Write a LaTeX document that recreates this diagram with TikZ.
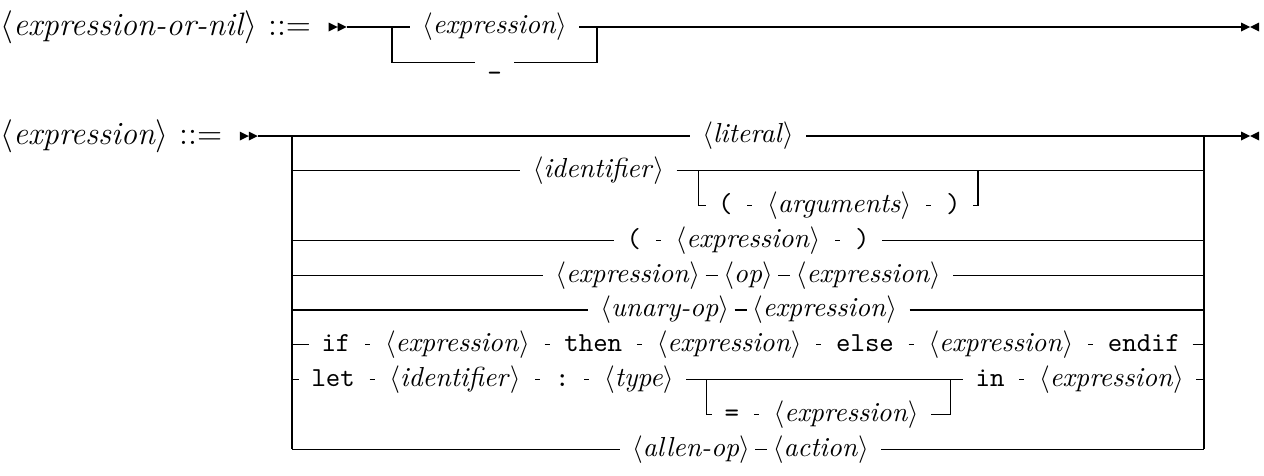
\documentclass[tikz,border=0pt]{standalone}
\usetikzlibrary{positioning}
\newcommand{\ntm}[1]{$\langle$\textit{#1}$\rangle$}
\newcommand{\rulesize}{\fontsize{11.8pt}{14pt}\selectfont}
\begin{document}
\begin{tikzpicture}[x=0.36364pt, y=-0.36364pt, line width=0.4pt,
  nt/.style={inner sep=0pt, text height=7.5pt, text depth=2.5pt},
  tk/.style={nt, font=\ttfamily},
  lhs/.style={inner sep=0pt, text height=8.85pt, text depth=2.95pt, font=\rulesize},
  nnr/.style={right=8pt of #1},
  nnl/.style={left=8pt of #1},
  tnr/.style={right=12.18pt of #1},
  tnl/.style={left=12.18pt of #1},
  nn/.style={shorten <=1.818pt, shorten >=1.818pt},
  nk/.style={shorten <=5.182pt, shorten >=5.182pt},
  padin/.style={shorten >=4.364pt},
  padout/.style={shorten <=4.364pt},
  startmark/.pic={\fill (0,-4.5) -- (9,0) -- (0,4.5) -- cycle (9,-4.5) -- (18,0) -- (9,4.5) -- cycle;},
  endmark/.pic={\fill (0,-4.5) -- (9,0) -- (0,4.5) -- cycle (18,-4.5) -- (9,0) -- (18,4.5) -- cycle;}]
\useasboundingbox (0,0) rectangle (1264,475);

% ---------- <expression-or-nil> ----------
\node[lhs, anchor=west] (lhsA) at (0,27) {\ntm{expression-or-nil} $::=$};
\coordinate[right=6.182pt of lhsA] (a0);
\pic at (a0) {startmark};
\coordinate (a1) at ([xshift=6.545pt]a0);
\coordinate (aS) at (392,27);
\coordinate (aM) at (597,27);
\coordinate (aE) at (1241,27);
\node[nt] (aexp) at (494.5,27) {\ntm{expression}};
\node[tk] (anil) at (494.5,62.3) {\_};
\draw[padin] (a1) -- (aexp);
\draw[padout] (aexp) -- (aE);
\draw[padin] (aS) |- (anil);
\draw[padout] (anil) -| (aM);
\pic at (aE) {endmark};

% ---------- <expression> ----------
\node[lhs, anchor=west] (lhsB) at (0,136) {\ntm{expression} $::=$};
\coordinate[right=6.182pt of lhsB] (b0);
\pic at (b0) {startmark};
\coordinate (b1) at ([xshift=6.545pt]b0);
\coordinate (bL) at (292,136);
\coordinate (bR) at (1204,136);
\coordinate (bLend) at (292,449.2);
\coordinate (bRend) at (1204,449.2);
\coordinate (bE) at (1241,136);
\draw (bL) -- (bLend);
\draw (bR) -- (bRend);
\pic at (bE) {endmark};

% literal
\node[nt] (lit) at (748,136) {\ntm{literal}};
\draw[padin] (b1) -- (lit);
\draw[padout] (lit) -- (bE);

% identifier with optional argument list
\coordinate (l1) at (292,170.8);
\coordinate (r1) at (1204,170.8);
\node[nt, anchor=west] (ident) at (532.3,170.8) {\ntm{identifier}};
\coordinate (s1) at ([xshift=12.364pt]ident.east);
\node[tk, anchor=west] (lp) at ([xshift=6.909pt]s1 |- 0,205.6) {(};
\node[nt, tnr=lp] (args) {\ntm{arguments}};
\node[tk, tnr=args] (rp) {)};
\coordinate (m1x) at ([xshift=6.182pt]rp.east);
\coordinate (m1) at (m1x |- ident);
\draw[padin] (l1) -- (ident);
\draw[padout] (ident) -- (r1);
\draw[padin] (s1) |- (lp);
\draw[nk] (lp) -- (args);
\draw[nk] (args) -- (rp);
\draw[padout] (rp) -| (m1);

% parenthesised expression
\coordinate (l2) at (292,240.4);
\coordinate (r2) at (1204,240.4);
\node[nt] (pexp) at (748,240.4) {\ntm{expression}};
\node[tk, tnl=pexp] (lp2) {(};
\node[tk, tnr=pexp] (rp2) {)};
\draw[padin] (l2) -- (lp2);
\draw[nk] (lp2) -- (pexp);
\draw[nk] (pexp) -- (rp2);
\draw[padout] (rp2) -- (r2);

% binary operation
\coordinate (l3) at (292,275.2);
\coordinate (r3) at (1204,275.2);
\node[nt] (bop) at (748,275.2) {\ntm{op}};
\node[nt, nnl=bop] (be1) {\ntm{expression}};
\node[nt, nnr=bop] (be2) {\ntm{expression}};
\draw[padin] (l3) -- (be1);
\draw[nn] (be1) -- (bop);
\draw[nn] (bop) -- (be2);
\draw[padout] (be2) -- (r3);

% unary operation
\coordinate (l4) at (292,310);
\coordinate (r4) at (1204,310);
\node[nt, anchor=west] (uop) at (599.9,310) {\ntm{unary-op}};
\node[nt, nnr=uop] (ue) {\ntm{expression}};
\draw[padin] (l4) -- (uop);
\draw[nn] (uop) -- (ue);
\draw[padout] (ue) -- (r4);

% conditional
\coordinate (l5) at (292,344.8);
\coordinate (r5) at (1204,344.8);
\node[tk, anchor=west] (kif) at (321,344.8) {if};
\node[nt, tnr=kif] (e51) {\ntm{expression}};
\node[tk, tnr=e51] (kthen) {then};
\node[nt, tnr=kthen] (e52) {\ntm{expression}};
\node[tk, tnr=e52] (kelse) {else};
\node[nt, tnr=kelse] (e53) {\ntm{expression}};
\node[tk, tnr=e53] (kendif) {endif};
\draw[padin] (l5) -- (kif);
\draw[nk] (kif) -- (e51);
\draw[nk] (e51) -- (kthen);
\draw[nk] (kthen) -- (e52);
\draw[nk] (e52) -- (kelse);
\draw[nk] (kelse) -- (e53);
\draw[nk] (e53) -- (kendif);
\draw[padout] (kendif) -- (r5);

% let binding with optional initialiser
\coordinate (l6) at (292,379.6);
\coordinate (r6) at (1204,379.6);
\node[tk, anchor=west] (klet) at (311,379.6) {let};
\node[nt, tnr=klet] (id6) {\ntm{identifier}};
\node[tk, tnr=id6] (kcolon) {:};
\node[nt, tnr=kcolon] (ty6) {\ntm{type}};
\coordinate (s6) at ([xshift=11.636pt]ty6.east);
\node[tk, anchor=west] (keq) at ([xshift=6.545pt]s6 |- 0,414.4) {=};
\node[nt, tnr=keq] (e6b) {\ntm{expression}};
\coordinate (m6x) at ([xshift=11.273pt]e6b.east);
\coordinate (m6) at (m6x |- ty6);
\node[tk, anchor=west] (kin) at ([xshift=9.091pt]m6) {in};
\node[nt, tnr=kin] (e62) {\ntm{expression}};
\draw[padin] (l6) -- (klet);
\draw[nk] (klet) -- (id6);
\draw[nk] (id6) -- (kcolon);
\draw[nk] (kcolon) -- (ty6);
\draw[padout, padin] (ty6) -- (kin);
\draw[padin] (s6) |- (keq);
\draw[nk] (keq) -- (e6b);
\draw[padout] (e6b) -| (m6);
\draw[nk] (kin) -- (e62);
\draw[padout] (e62) -- (r6);

% allen operator
\coordinate (l7) at (292,449.2);
\coordinate (r7) at (1204,449.2);
\node[nt, anchor=west] (aop) at (631.6,449.2) {\ntm{allen-op}};
\node[nt, nnr=aop] (act) {\ntm{action}};
\draw[padin] (l7) -- (aop);
\draw[nn] (aop) -- (act);
\draw[padout] (act) -- (r7);
\end{tikzpicture}
\end{document}
